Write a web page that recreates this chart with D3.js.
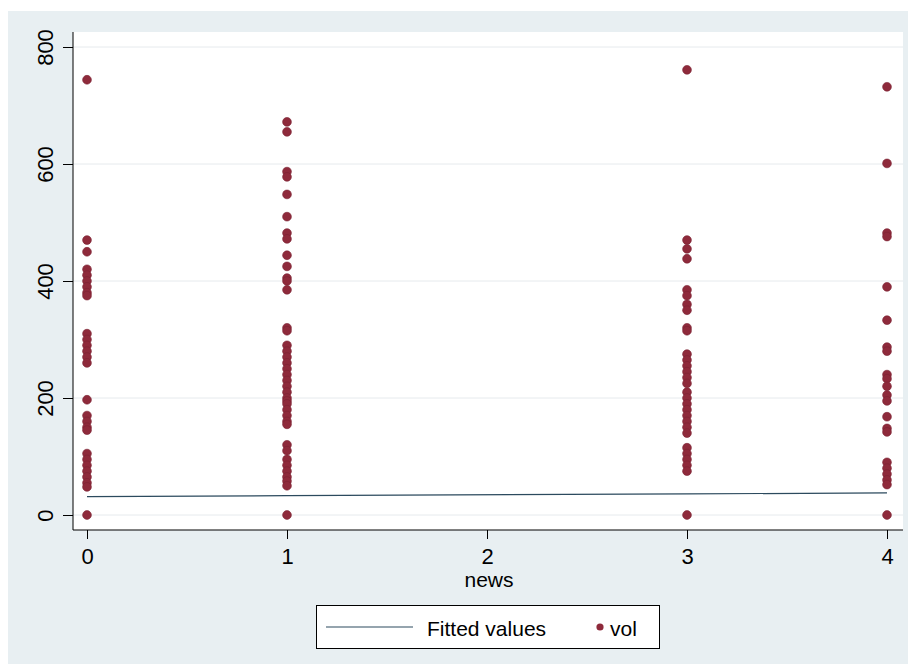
<!DOCTYPE html>
<html><head><meta charset="utf-8">
<script src="https://cdn.jsdelivr.net/npm/d3@7"></script>
<style>body{margin:0;background:#fff}svg{display:block;font-family:"Liberation Sans",Arial,sans-serif}</style>
</head><body><svg id="c" width="908" height="664"></svg>
<script>
const newsCats = [0, 1, 3, 4];
const vol0 = [744, 470, 450, 420, 410, 400, 390, 380, 375, 310, 300, 290, 280, 270, 260, 197, 170, 160, 150, 145, 105, 95, 85, 75, 65, 55, 48, 0];
const vol1 = [672, 655, 587, 578, 548, 510, 482, 472, 444, 425, 405, 400, 385, 320, 315, 290, 280, 270, 260, 250, 240, 230, 220, 210, 200, 195, 190, 180, 170, 160, 155, 120, 110, 95, 85, 75, 65, 58, 50, 0];
const vol3 = [761, 470, 455, 438, 385, 375, 360, 350, 320, 315, 275, 265, 255, 245, 235, 225, 210, 200, 190, 180, 170, 160, 150, 140, 115, 105, 95, 85, 75, 0];
const vol4 = [732, 601, 482, 476, 390, 333, 287, 280, 240, 233, 220, 205, 195, 168, 148, 142, 90, 80, 70, 60, 52, 0];
const fitted = [31.5, 33.0, 36.1, 37.7];
const xTicks = [0, 1, 2, 3, 4];
const yTicks = [0, 200, 400, 600, 800];

const svg = d3.select("#c");
const x = d3.scaleLinear().domain([0, 4]).range([87, 887]);
const y = d3.scaleLinear().domain([0, 800]).range([515, 47]);

svg.append("rect").attr("x", 8).attr("y", 11).attr("width", 900).attr("height", 653).attr("fill", "#e8eff2");
svg.append("rect").attr("x", 73).attr("y", 32).attr("width", 830).attr("height", 498).attr("fill", "#fff");

// grid
svg.append("g").selectAll("line").data(yTicks).join("line")
  .attr("x1", 73).attr("x2", 903).attr("y1", d => y(d)).attr("y2", d => y(d))
  .attr("stroke", "#e6eaed").attr("stroke-width", 1);

// axes
const yAxis = d3.axisLeft(y).tickValues(yTicks).tickSize(10);
const gy = svg.append("g").attr("transform", "translate(73,0)").call(yAxis);
gy.select(".domain").attr("d", "M0,32V530").attr("stroke", "#000");
gy.selectAll(".tick line").attr("stroke", "#000");
gy.selectAll(".tick text").attr("font-size", 22).attr("fill", "#000")
  .attr("transform", "rotate(-90)").attr("x", 0).attr("y", -20).attr("dy", null)
  .attr("text-anchor", "middle");

const xAxis = d3.axisBottom(x).tickValues(xTicks).tickFormat(d3.format("d")).tickSize(9);
const gx = svg.append("g").attr("transform", "translate(0,530)").call(xAxis);
gx.select(".domain").attr("d", "M73,0H903").attr("stroke", "#000");
gx.selectAll(".tick line").attr("stroke", "#000");
gx.selectAll(".tick text").attr("font-size", 22).attr("fill", "#000").attr("y", 34).attr("dy", null);

svg.append("text").attr("x", 489).attr("y", 587).attr("text-anchor", "middle")
  .attr("font-size", 21).text("news");

// fitted line
const fitData = newsCats.map((c, i) => [c, fitted[i]]);
svg.append("path").datum(fitData)
  .attr("d", d3.line().x(d => x(d[0])).y(d => y(d[1])))
  .attr("fill", "none").attr("stroke", "#2c4a5e").attr("stroke-width", 1.2);

// points
const pts = [];
[vol0, vol1, vol3, vol4].forEach((arr, i) => arr.forEach(v => pts.push([newsCats[i], v])));
svg.append("g").selectAll("circle").data(pts).join("circle")
  .attr("cx", d => x(d[0])).attr("cy", d => y(d[1])).attr("r", 4.4)
  .attr("fill", "#8e2a3b").attr("stroke", "#7a2232").attr("stroke-width", 0.6);

// legend
const lg = svg.append("g");
lg.append("rect").attr("x", 316.5).attr("y", 605.5).attr("width", 343).attr("height", 43)
  .attr("fill", "#fff").attr("stroke", "#000").attr("stroke-width", 1);
lg.append("line").attr("x1", 326).attr("x2", 413).attr("y1", 627).attr("y2", 627)
  .attr("stroke", "#2c4a5e").attr("stroke-width", 1.2);
lg.append("text").attr("x", 427).attr("y", 636).attr("font-size", 21).text("Fitted values");
lg.append("circle").attr("cx", 600).attr("cy", 627).attr("r", 3.6).attr("fill", "#8e2a3b");
lg.append("text").attr("x", 610).attr("y", 636).attr("font-size", 21).text("vol");
</script></body></html>
